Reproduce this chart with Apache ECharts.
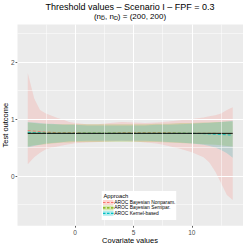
<!DOCTYPE html>
<html><head><meta charset="utf-8">
<script src="https://cdn.jsdelivr.net/npm/echarts@6/dist/echarts.min.js"></script>
<style>html,body{margin:0;padding:0;background:#fff}#c{width:245px;height:245px}</style>
</head><body><div id="c"></div>
<script>
// ---- data ----
const covariate = [-4.05, -3.5, -3, -2.5, -2, -1.5, -1, -0.5, 0, 1, 2, 3, 4, 5, 6, 7, 8, 9, 10, 11, 11.5, 12, 12.5, 13, 13.5];
const nonparUpper = [1.81, 1.36, 1.16, 1.10, 1.06, 1.02, 0.99, 0.95, 0.93, 0.91, 0.91, 0.93, 0.95, 0.94, 0.93, 0.94, 0.96, 0.98, 1.00, 1.03, 1.05, 1.07, 1.10, 1.16, 1.21];
const nonparLower = [0.21, 0.33, 0.41, 0.47, 0.50, 0.52, 0.54, 0.56, 0.575, 0.59, 0.60, 0.61, 0.62, 0.61, 0.59, 0.57, 0.53, 0.48, 0.42, 0.33, 0.24, 0.08, -0.12, -0.33, -0.42];
const nonparEst = [0.80, 0.79, 0.78, 0.77, 0.77, 0.76, 0.76, 0.76, 0.76, 0.75, 0.75, 0.75, 0.76, 0.76, 0.76, 0.76, 0.76, 0.75, 0.75, 0.75, 0.75, 0.75, 0.75, 0.74, 0.74];
const semiparUpper = [0.94, 0.93, 0.92, 0.92, 0.91, 0.91, 0.91, 0.91, 0.91, 0.91, 0.91, 0.91, 0.91, 0.91, 0.91, 0.92, 0.92, 0.93, 0.93, 0.94, 0.94, 0.95, 0.95, 0.96, 0.96];
const semiparLower = [0.52, 0.54, 0.55, 0.56, 0.57, 0.58, 0.59, 0.59, 0.60, 0.60, 0.60, 0.60, 0.60, 0.60, 0.60, 0.60, 0.59, 0.58, 0.57, 0.56, 0.555, 0.55, 0.54, 0.53, 0.52];
const semiparEst = [0.755, 0.755, 0.755, 0.755, 0.755, 0.755, 0.755, 0.755, 0.755, 0.755, 0.755, 0.755, 0.755, 0.755, 0.755, 0.755, 0.755, 0.755, 0.75, 0.75, 0.75, 0.75, 0.745, 0.745, 0.745];
const kernelUpper = [0.95, 0.94, 0.93, 0.92, 0.92, 0.91, 0.90, 0.90, 0.90, 0.89, 0.89, 0.89, 0.89, 0.89, 0.89, 0.90, 0.90, 0.91, 0.92, 0.93, 0.935, 0.94, 0.95, 0.96, 0.97];
const kernelLower = [0.50, 0.53, 0.55, 0.57, 0.58, 0.59, 0.60, 0.61, 0.61, 0.62, 0.62, 0.62, 0.62, 0.62, 0.62, 0.61, 0.60, 0.59, 0.57, 0.55, 0.53, 0.50, 0.46, 0.40, 0.32];
const kernelEst = [0.77, 0.76, 0.76, 0.75, 0.75, 0.75, 0.75, 0.75, 0.75, 0.75, 0.75, 0.75, 0.75, 0.75, 0.75, 0.75, 0.75, 0.75, 0.75, 0.745, 0.74, 0.735, 0.73, 0.725, 0.72];
const trueX = [-4.05, 13.5];
const trueY = [0.75, 0.75];
const approaches = ['AROC Bayesian Nonparam.', 'AROC Bayesian Semipar.', 'AROC Kernel-based'];
const xMajorTicks = [0, 5, 10];
const xMinorTicks = [-2.5, 2.5, 7.5, 12.5];
const yMajorTicks = [0, 1, 2];
const yMinorTicks = [-0.5, 0.5, 1.5, 2.5];

// ---- styling ----
const colors = ['#F8766D', '#7CAE00', '#00BFC4'];
const fills = ['rgba(248,118,109,0.2)', 'rgba(124,174,0,0.2)', 'rgba(0,191,196,0.2)'];
const FONT = 'Liberation Sans, Arial, sans-serif';
const G = {left: 17.5, right: 2, top: 24.5, bottom: 19.3};
const X_MIN = -4.93, X_MAX = 14.38, Y_MIN = -0.87, Y_MAX = 2.66;

function ribbon(name, upper, lower, fill) {
  return {
    type: 'custom', name: name, silent: true,
    data: [[covariate[0], lower[0]]],
    renderItem: function (params, api) {
      const pts = [];
      for (let i = 0; i < covariate.length; i++) pts.push(api.coord([covariate[i], upper[i]]));
      for (let i = covariate.length - 1; i >= 0; i--) pts.push(api.coord([covariate[i], lower[i]]));
      return {type: 'polygon', shape: {points: pts}, style: {fill: fill, stroke: null}};
    },
    z: 2
  };
}
function estLine(name, est, color) {
  return {
    type: 'line', name: name, silent: true,
    data: covariate.map((x, i) => [x, est[i]]),
    showSymbol: false, symbol: 'none',
    lineStyle: {color: color, width: 0.9, type: [3, 2]}, z: 3
  };
}
function gridLines() {
  const d = [];
  xMajorTicks.forEach(v => d.push({xAxis: v, lineStyle: {width: 1}}));
  xMinorTicks.forEach(v => d.push({xAxis: v, lineStyle: {width: 0.5}}));
  yMajorTicks.forEach(v => d.push({yAxis: v, lineStyle: {width: 1}}));
  yMinorTicks.forEach(v => d.push({yAxis: v, lineStyle: {width: 0.5}}));
  return {
    type: 'line', data: [], silent: true, z: 1,
    markLine: {silent: true, symbol: ['none', 'none'], label: {show: false}, animation: false,
      lineStyle: {color: '#ffffff', type: 'solid'}, data: d}
  };
}

const chart = echarts.init(document.getElementById('c'), null, {renderer: 'svg'});
chart.setOption({
  animation: false,
  backgroundColor: '#ffffff',
  title: [
    {text: 'Threshold values \u2013 Scenario I \u2013 FPF = 0.3', left: 130, top: 2.2, textAlign: 'center', padding: 0,
     textStyle: {fontFamily: FONT, fontSize: 9, fontWeight: 'normal', color: '#000', lineHeight: 9}},
    {text: '(n{s|D\u0305}, n{s|D}) = (200, 200)', left: 130, top: 12, textAlign: 'center', padding: 0,
     textStyle: {fontFamily: FONT, fontSize: 8, fontWeight: 'normal', color: '#000', lineHeight: 9,
       rich: {s: {fontFamily: FONT, fontSize: 5.5, color: '#000', lineHeight: 5, verticalAlign: 'bottom'}}}}
  ],
  grid: {left: G.left, right: G.right, top: G.top, bottom: G.bottom, show: true, backgroundColor: '#EBEBEB', borderWidth: 0, containLabel: false, outerBoundsMode: 'none'},
  xAxis: {
    type: 'value', min: X_MIN, max: X_MAX, position: 'bottom',
    axisLine: {show: false, onZero: false},
    axisTick: {show: true, length: 2, customValues: xMajorTicks, lineStyle: {color: '#333', width: 0.8}},
    axisLabel: {customValues: xMajorTicks, fontFamily: FONT, fontSize: 6.5, color: '#4D4D4D', margin: 3},
    splitLine: {show: false}
  },
  yAxis: {
    type: 'value', min: Y_MIN, max: Y_MAX, position: 'left',
    name: 'Test outcome', nameLocation: 'middle', nameGap: 8.5, nameRotate: 90, nameMoveOverlap: false,
    nameTextStyle: {fontFamily: FONT, fontSize: 7.5, color: '#000'},
    axisLine: {show: false, onZero: false},
    axisTick: {show: true, length: 2, customValues: yMajorTicks, lineStyle: {color: '#333', width: 0.8}},
    axisLabel: {customValues: yMajorTicks, fontFamily: FONT, fontSize: 6.5, color: '#4D4D4D', margin: 3},
    splitLine: {show: false}
  },
  series: [
    gridLines(),
    ribbon(approaches[0], nonparUpper, nonparLower, fills[0]),
    ribbon(approaches[1], semiparUpper, semiparLower, fills[1]),
    ribbon(approaches[2], kernelUpper, kernelLower, fills[2]),
    estLine(approaches[0], nonparEst, colors[0]),
    estLine(approaches[1], semiparEst, colors[1]),
    estLine(approaches[2], kernelEst, colors[2]),
    {type: 'line', name: 'True', silent: true, data: trueX.map((x, i) => [x, trueY[i]]),
     showSymbol: false, symbol: 'none', lineStyle: {color: '#111', width: 1}, z: 4}
  ],
  graphic: (function () {
    const els = [];
    els.push({type: 'text', x: 130, y: 240, style: {text: 'Covariate values', fontFamily: FONT, fontSize: 7.5, fill: '#000', align: 'center', verticalAlign: 'middle'}, z: 11});
    const lx = 101.7, ly = 191, lw = 74.5, lh = 29;
    els.push({type: 'rect', shape: {x: lx, y: ly, width: lw, height: lh}, style: {fill: '#fff'}, z: 10});
    els.push({type: 'text', x: lx + 1.8, y: ly + 4.5, style: {text: 'Approach', fontFamily: FONT, fontSize: 5.8, fill: '#000', verticalAlign: 'middle'}, z: 11});
    for (let i = 0; i < 3; i++) {
      const ky = ly + 9 + i * 5.4;
      els.push({type: 'rect', shape: {x: lx + 1.3, y: ky, width: 10.5, height: 5}, style: {fill: fills[i].replace('0.2)', '0.3)')}, z: 11});
      els.push({type: 'line', shape: {x1: lx + 1.3, y1: ky + 2.5, x2: lx + 11.8, y2: ky + 2.5}, style: {stroke: colors[i], lineWidth: 1.2, lineDash: [2.5, 1.5]}, z: 12});
      els.push({type: 'text', x: lx + 12.5, y: ky + 2.5, style: {text: approaches[i], fontFamily: FONT, fontSize: 4.9, fill: '#000', verticalAlign: 'middle'}, z: 11});
    }
    return els;
  })()
});
</script></body></html>
